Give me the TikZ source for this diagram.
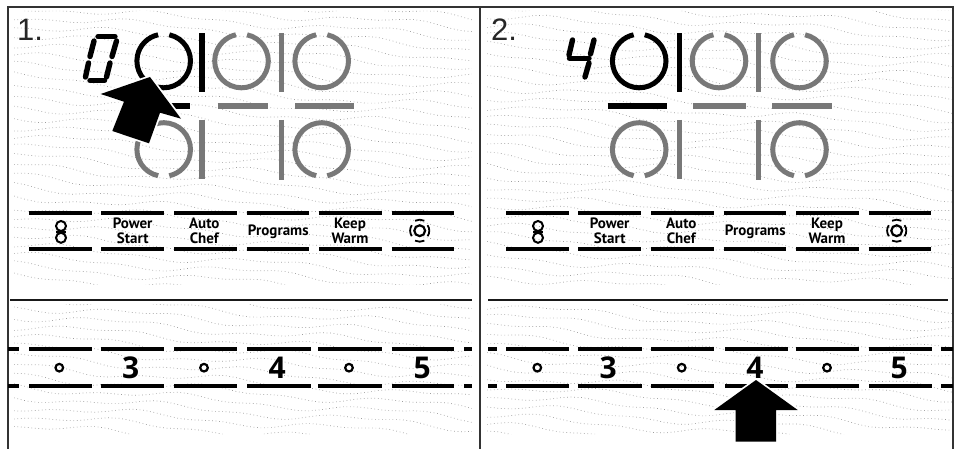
\documentclass[tikz,border=0pt]{standalone}
\usepackage{fontspec}
\setmainfont{PT Sans}
\newfontfamily\numfont{Liberation Sans}
\newfontfamily\digitfont{Open Sans}
\definecolor{halfgray}{gray}{0.47}
\newcommand{\ring}[5]{% x,y,start,end,colour
  \draw[line width=5pt,#5] ([shift={(#1,#2)}]#3:26.8) arc[start angle=#3,end angle=#4,radius=26.8];}
\newcommand{\ringtop}[3]{\ring{#1}{#2}{282}{618}{#3}}
\newcommand{\ringbot}[3]{\ring{#1}{#2}{102}{438}{#3}}
\newcommand{\texture}[2]{% x start, x end
  \begin{scope}
    \clip (#1,11) rectangle (#2,285) (#1,304) rectangle (#2,434);
    \foreach \r in {-3,...,44}{
      \pgfmathsetmacro{\yy}{6+10*\r}
      \draw[dotline] plot[domain=#1:#2,samples=40] (\x,{\yy+0.07*(\x-#1)+3.4*sin(1.7*\x+37*\r)+1.8*sin(4.3*\x+91*\r)});
    }
  \end{scope}}
\newcommand{\btnlabels}{%
  \node[lbl] (power) at (132.7,230.7) {Power\\Start};
  \node[lbl] (auto) at (204.3,230.7) {Auto\\Chef};
  \node[lbl] (prog) at (278.3,231.5) {Programs};
  \node[lbl] (keep) at (350,230.7) {Keep\\Warm};
  \draw[sym] (61,226) circle[radius=5];
  \draw[sym] (61,237.8) circle[radius=5];
  \draw[sym] (56.3,231.9) -- (65.7,231.9);
  \draw[line width=2.2pt,black] (419.7,230.7) circle[radius=5.4];
  \draw[line width=1.8pt] ([shift={(419.7,230.7)}]145:9.6) arc[start angle=145,end angle=215,radius=9.6];
  \draw[line width=1.8pt] ([shift={(419.7,230.7)}]-35:9.6) arc[start angle=-35,end angle=35,radius=9.6];
  \draw[line width=1.8pt] ([shift={(419.7,230.7)}]65:11) arc[start angle=65,end angle=115,radius=11];
  \draw[line width=1.8pt] ([shift={(419.7,230.7)}]245:11) arc[start angle=245,end angle=295,radius=11];
}
\tikzset{
  dotline/.style={line width=0.7pt,black!38,dash pattern=on 0.7pt off 2.8pt},
  barline/.style={line width=4.3pt,black},
  grayline/.style={line width=5.3pt,halfgray},
  darkline/.style={line width=5.3pt,black},
  seg/.style={line width=5.4pt,black,line cap=round},
  lbl/.style={font=\fontsize{15}{15}\selectfont\bfseries,align=center,inner sep=0pt,text=black},
  num/.style={font=\digitfont\fontsize{30}{30}\selectfont\bfseries,inner sep=0pt},
  step label/.style={font=\numfont\fontsize{31}{31}\selectfont,inner sep=0pt,text=black!85},
  sym/.style={line width=2pt,black},
  dotc/.style={line width=2.2pt,black},
  pointer/.style={fill=black,preaction={draw=white,line width=3.5pt,line join=miter}},
  frameline/.style={line width=1.5pt,black!80},
  sepline/.style={line width=2pt,black!90}
}
\begin{document}
\begin{tikzpicture}[x=1pt,y=-1pt]
\useasboundingbox (0,0) rectangle (959,449);
\fill[white] (0,0) rectangle (959,449);
\texture{14}{472}
\texture{487}{952}
% frame
\draw[frameline] (8,449) -- (8,7) -- (953,7) -- (953,449);
\draw[frameline] (480,7) -- (480,449);
\draw[sepline] (10,299.7) -- (472,299.7);
\draw[sepline] (488,299.7) -- (948,299.7);
% panel labels
\node[step label,anchor=base west] (one) at (17,41) {1.};
\node[step label,anchor=base west] (two) at (491,41) {2.};
% panel 1 rings
\ringtop{163.7}{61}{black}
\ringtop{241.5}{61}{halfgray}
\ringtop{321.7}{61}{halfgray}
\ringbot{163.7}{149.5}{halfgray}
\ringbot{321.7}{149.5}{halfgray}
\draw[darkline] (202,33.5) -- (202,92.5);
\draw[grayline] (281.7,33.5) -- (281.7,92.5);
\draw[grayline] (202,120) -- (202,179);
\draw[grayline] (281.7,120) -- (281.7,180);
\draw[darkline] (132,106) -- (190,106);
\draw[grayline] (217.7,106) -- (268,106);
\draw[grayline] (295,106) -- (354.3,106);
% digit 0
\draw[seg] (98,36.7) -- (115,36.7);
\draw[seg] (94,41) -- (90,56.5);
\draw[seg] (88.5,63) -- (85.5,77);
\draw[seg] (90,80.5) -- (104.5,80.5);
\draw[seg] (116.5,41) -- (112,56.5);
\draw[seg] (110,63) -- (106.5,77);
% panel 2 rings
\ringtop{639.2}{61}{black}
\ringtop{719}{61}{halfgray}
\ringtop{799.5}{61}{halfgray}
\ringbot{639.2}{149.5}{halfgray}
\ringbot{799.5}{149.5}{halfgray}
\draw[darkline] (679.3,33.5) -- (679.3,92.5);
\draw[grayline] (758.7,33.5) -- (758.7,92.5);
\draw[grayline] (679.3,120) -- (679.3,179.5);
\draw[grayline] (758.7,120) -- (758.7,180);
\draw[darkline] (607.7,106) -- (667,106);
\draw[grayline] (692.7,106) -- (746,106);
\draw[grayline] (772,106) -- (831.7,106);
% digit 4
\draw[seg] (572.5,40) -- (569,55);
\draw[seg] (569.5,58.3) -- (589,58.3);
\draw[seg] (594,40) -- (590.5,54);
\draw[seg] (589,63) -- (585,77);
% button bars
\foreach \a/\b in {29/91.7,101.3/164,174/236.7,246.7/309.3,319/381.7,391.7/454.3}{
  \draw[barline] (\a,213) -- (\b,213);
  \draw[barline] (\a,249) -- (\b,249);
  \draw[barline] (\a+477,213) -- (\b+477,213);
  \draw[barline] (\a+477,249) -- (\b+477,249);
}
% number bars
\foreach \a/\b in {8/19,29/91.7,100.7/164,174/236.7,247.3/310.7,318.3/381.7,391.7/454.3,464/472,
                   488/496.7,506/569.3,578.3/641.7,651.3/714.3,725/788.3,796/859,869/932.3,941/953}{
  \draw[barline] (\a,349) -- (\b,349);
  \draw[barline] (\a,385.7) -- (\b,385.7);
}
% button labels
\btnlabels
\begin{scope}[xshift=477pt]
\btnlabels
\end{scope}
% numbers
\draw[dotc] (59.3,367.7) circle[radius=3.8];
\draw[dotc] (204,367.7) circle[radius=3.8];
\draw[dotc] (349,367.7) circle[radius=3.8];
\node[num] (n3a) at (130.7,367.7) {3};
\node[num] (n4a) at (277.3,367.7) {4};
\node[num] (n5a) at (422.3,367.7) {5};
\draw[dotc] (537.3,367.7) circle[radius=3.8];
\draw[dotc] (681.7,367.7) circle[radius=3.8];
\draw[dotc] (827,367.7) circle[radius=3.8];
\node[num] (n3b) at (608.3,367.7) {3};
\node[num] (n4b) at (755,367.7) {4};
\node[num] (n5b) at (899.3,367.7) {5};
% arrows
\path[pointer] (150,77) -- (181,118.7) -- (160,112.7) -- (149,143.3) -- (112.3,131) -- (124,101.7) -- (100.7,94) -- cycle;
\path[pointer] (756,380) -- (797.7,410) -- (776,410) -- (776,441.7) -- (735.7,441.7) -- (735.7,410) -- (714.3,410) -- cycle;
\end{tikzpicture}
\end{document}
